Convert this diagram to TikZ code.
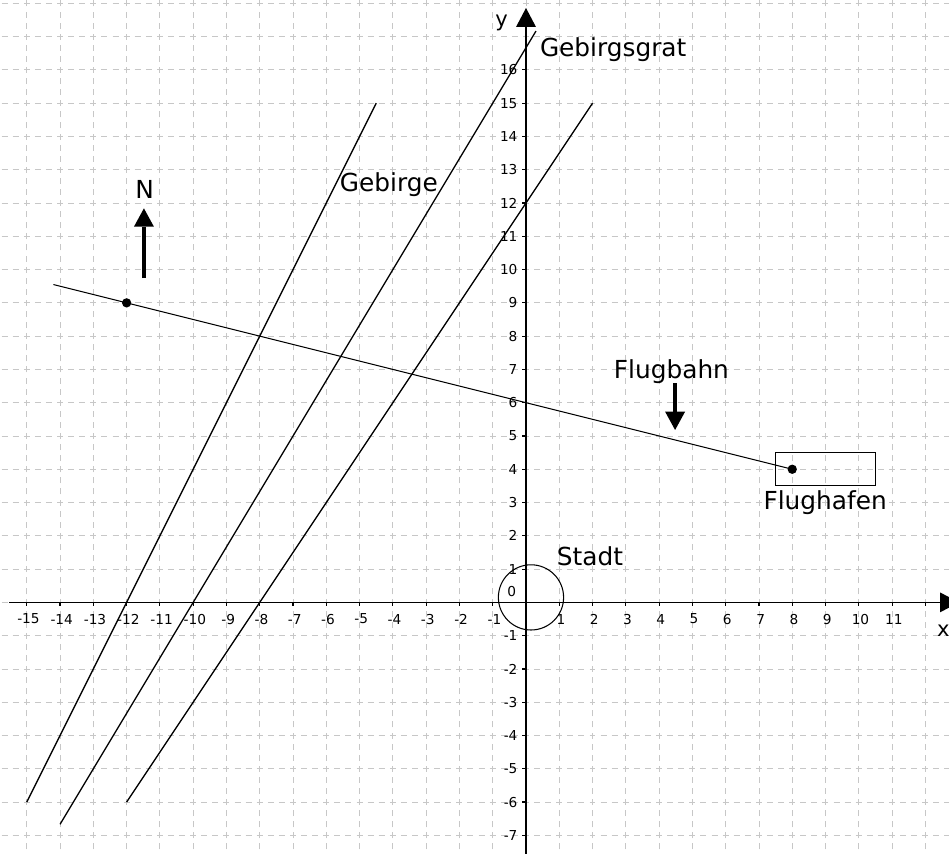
\documentclass[tikz,border=0pt]{standalone}
\usepackage{fontspec}
\setmainfont{DejaVu Sans}
\usetikzlibrary{arrows.meta}
\begin{document}
\begin{tikzpicture}[x=1cm,y=1cm,
  gridline/.style={draw=black!22, line width=0.7pt, dash pattern=on 0.18cm off 0.1533cm, dash phase=0.09cm},
  axisline/.style={line width=1.2pt, -{Triangle[length=0.57cm,width=0.6cm,line width=0pt]}},
  tickmark/.style={line width=1pt},
  ticklbl/.style={font=\fontsize{11.7}{12}\selectfont, inner sep=0pt},
  axlbl/.style={font=\fontsize{18}{20}\selectfont, inner sep=0pt, anchor=base},
  lbl/.style={font=\fontsize{21.2}{24}\selectfont, inner sep=0pt, anchor=base},
  ridge/.style={line width=1.1pt},
  flightline/.style={line width=0.9pt},
  bigarrow/.style={line width=4pt, -{Triangle[length=0.55cm,width=0.6cm,line width=0pt]}},
  dot/.style={circle, fill=black, inner sep=0pt, minimum size=0.28cm}
]
\useasboundingbox (-15.805,-7.557) rectangle (12.71,18.10);
\fill[white] (-15.805,-7.557) rectangle (12.71,18.10);
% grid
\foreach \i in {-16,...,13} \draw[gridline] (\i,-8) -- (\i,19);
\foreach \j in {-8,...,18} \draw[gridline] (-16,\j) -- (13,\j);
% axes
\coordinate (xs) at (-15.53,0); \coordinate (xe) at (13.01,0);
\coordinate (ys) at (0,-8); \coordinate (ye) at (0,17.86);
\draw[axisline] (xs) -- (xe);
\draw[axisline] (ys) -- (ye);
\foreach \i in {-15,...,-1} \draw[tickmark] (\i,0) -- (\i,-0.12);
\foreach \i in {1,...,12} \draw[tickmark] (\i,0) -- (\i,-0.12);
\foreach \j in {-7,...,-1} \draw[tickmark] (0,\j) -- (-0.12,\j);
\foreach \j in {1,...,16} \draw[tickmark] (0,\j) -- (-0.12,\j);
\foreach \i in {-15,...,-1} \node[ticklbl] (xl\i) at (\i+0.05,-0.5) {\i};
\foreach \i in {1,...,11} \node[ticklbl] (xl\i) at (\i+0.05,-0.5) {\i};
\foreach \j in {-7,...,-1} \node[ticklbl, anchor=east] (yl\j) at (-0.25,\j) {\j};
\foreach \j in {1,...,16} \node[ticklbl, anchor=east] (yl\j) at (-0.25,\j) {\j};
\node[ticklbl] (zero) at (-0.43,0.32) {0};
\node[axlbl] (ylab) at (-0.73,17.30) {y};
\node[axlbl] (xlab) at (12.54,-1.03) {x};
% mountains
\coordinate (g1a) at (-15,-6);      \coordinate (g1b) at (-4.5,15);
\coordinate (g2a) at (-14,-6.667);  \coordinate (g2b) at (0.3,17.167);
\coordinate (g3a) at (-12,-6);      \coordinate (g3b) at (2,15);
\draw[ridge] (g1a) -- (g1b);
\draw[ridge] (g2a) -- (g2b);
\draw[ridge] (g3a) -- (g3b);
% city and airport
\node[circle, draw, line width=0.9pt, minimum size=1.96cm, inner sep=0pt] (stadt) at (0.15,0.15) {};
\node[draw, line width=0.9pt, minimum width=3cm, minimum height=1cm, inner sep=0pt] (hafen) at (9,4) {};
% flight path
\coordinate (fs) at (-14.2,9.55);
\node[dot] (P) at (-12,9) {};
\node[dot] (F) at (8,4) {};
\draw[flightline] (fs) -- (P.center) -- (F.center);
% arrows
\coordinate (n0) at (-11.48,9.74); \coordinate (n1) at (-11.48,11.84);
\draw[bigarrow] (n0) -- (n1);
\coordinate (f0) at (4.48,6.59); \coordinate (f1) at (4.48,5.18);
\draw[bigarrow] (f0) -- (f1);
% labels
\node[lbl] (tN) at (-11.46,12.15) {N};
\node[lbl] (tGeb) at (-4.12,12.34) {Gebirge};
\node[lbl] (tGrat) at (2.62,16.40) {Gebirgsgrat};
\node[lbl] (tFlug) at (4.37,6.74) {Flugbahn};
\node[lbl] (tHafen) at (8.99,2.78) {Flughafen};
\node[lbl] (tStadt) at (1.92,1.10) {Stadt};
\end{tikzpicture}
\end{document}
